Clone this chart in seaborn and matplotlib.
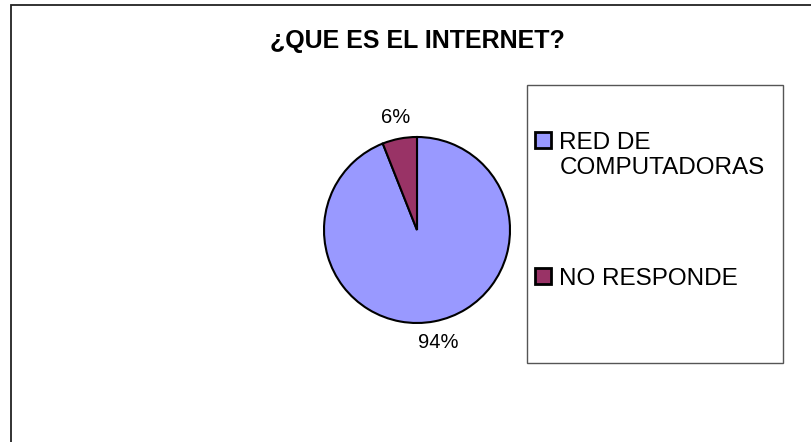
import matplotlib
matplotlib.use("Agg")
import matplotlib.pyplot as plt
import seaborn as sns
from matplotlib.patches import Rectangle

# ---- datos ----
categorias = ["RED DE\nCOMPUTADORAS", "NO RESPONDE"]
valores = [94, 6]
colores = ["#9999FF", "#993366"]
titulo = "¿QUE ES EL INTERNET?"

sns.set_theme(style="white")
plt.rcParams["font.family"] = ["Liberation Sans", "DejaVu Sans"]
plt.rcParams["text.color"] = "black"

W, H = 812, 442
fig = plt.figure(figsize=(W / 100, H / 100), dpi=100)

# ---- borde exterior (recortado a la derecha y abajo) ----
fig.patches.append(Rectangle((11 / W, -0.2), 1.2, 1.2 - 5 / H,
                             transform=fig.transFigure, fill=False,
                             edgecolor="#222222", linewidth=1.3))

# ---- pie ----
cx, cy, r = 417, 230, 93
ax = fig.add_axes([(cx - r) / W, (H - cy - r) / H, 2 * r / W, 2 * r / H])
wedges, _, autotexts = ax.pie(
    valores, colors=colores, startangle=90, counterclock=False,
    autopct="%1.0f%%", pctdistance=1.23,
    wedgeprops=dict(edgecolor="black", linewidth=1.5),
    textprops=dict(fontsize=14.5, color="black"),
)
ax.set_xlim(-1, 1)
ax.set_ylim(-1, 1)
ax.axis("off")

fig.text(cx / W, 1 - 41 / H, titulo, ha="center", va="center",
         fontsize=18, fontweight="bold", color="black")

# ---- leyenda ----
fig.patches.append(Rectangle((527 / W, 1 - 363 / H), (783 - 527) / W, (363 - 85) / H,
                             transform=fig.transFigure, fill=False,
                             edgecolor="#555555", linewidth=1.0))
leg = fig.legend(wedges, categorias, loc="upper left",
                 bbox_to_anchor=(535 / W, 1 - 132 / H), frameon=False,
                 fontsize=17.5, handlelength=0.65, handleheight=0.65,
                 handletextpad=0.35, labelspacing=3.65, borderaxespad=0,
                 borderpad=0, labelcolor="black")
for h in leg.legend_handles:
    h.set_linewidth(2)
for col in leg._legend_handle_box.get_children():
    for row in col.get_children():
        row.align = "top"

fig.savefig("out.png", dpi=100)
